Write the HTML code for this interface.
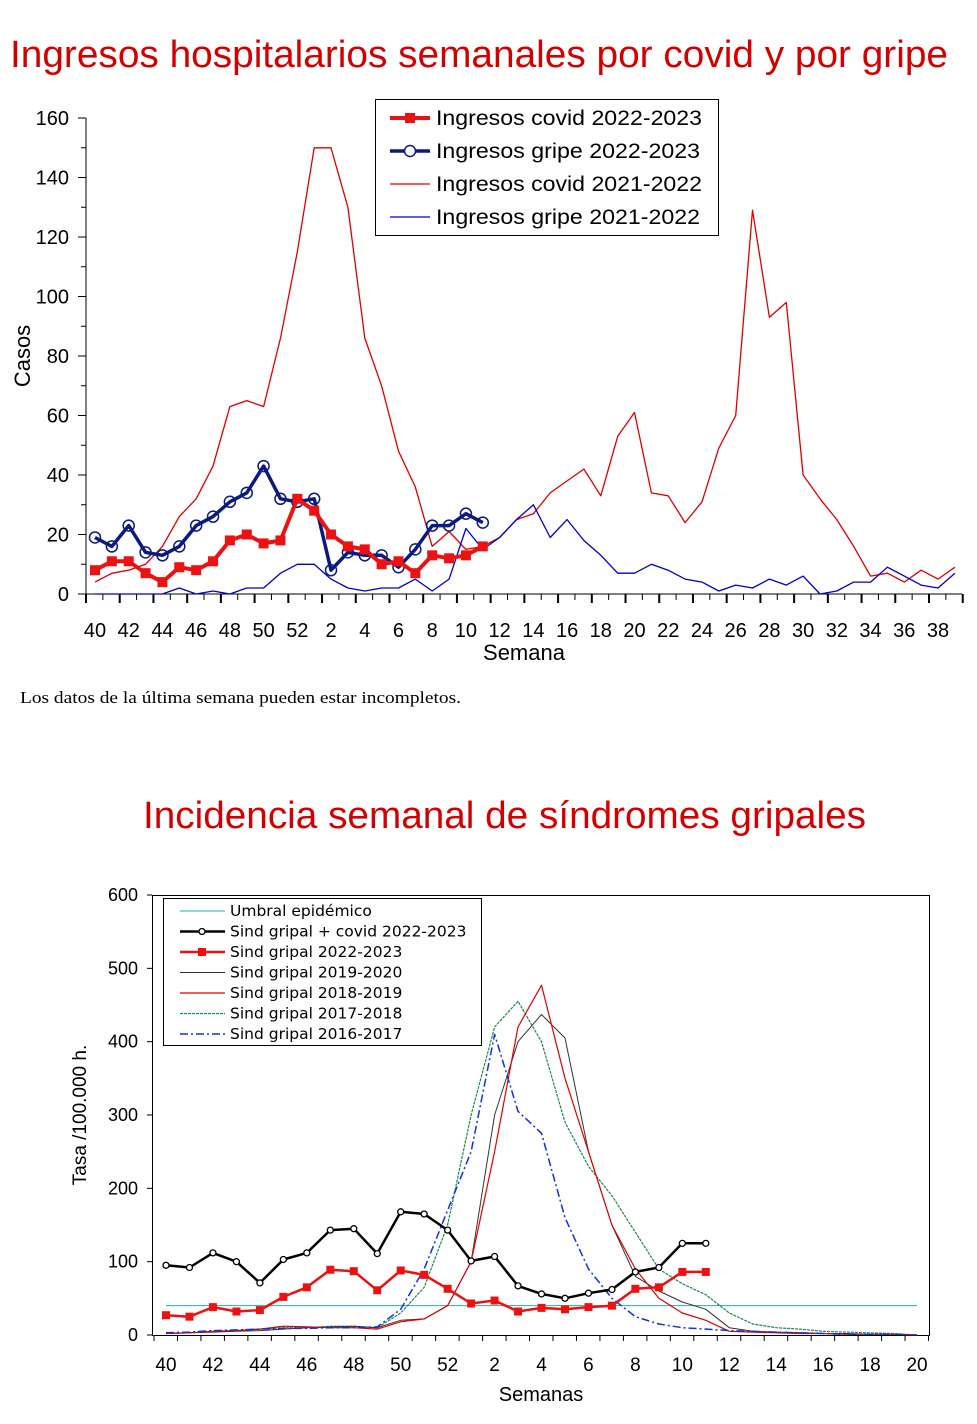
<!DOCTYPE html>
<html><head><meta charset="utf-8"><style>
body{margin:0;background:#fff;width:977px;height:1424px;overflow:hidden}
svg{position:absolute;left:0;top:0}
text{font-family:"Liberation Sans",Arial,sans-serif}
</style></head><body>
<svg id="s" width="977" height="1424" xmlns="http://www.w3.org/2000/svg">
<text x="10" y="67" textLength="938" lengthAdjust="spacingAndGlyphs" font-size="38" fill="#d40000">Ingresos hospitalarios semanales por covid y por gripe</text>
<text x="20" y="703" textLength="441" lengthAdjust="spacingAndGlyphs" font-size="17" style="font-family:'Liberation Serif',serif">Los datos de la última semana pueden estar incompletos.</text>
<text x="143" y="828" textLength="723" lengthAdjust="spacingAndGlyphs" font-size="38" fill="#d40000">Incidencia semanal de síndromes gripales</text>
<g id="g"></g>
</svg>
<script>
var g=document.getElementById('g'),h='';
function X1(i){return 95+i*16.86}function Y1(v){return 594-v*2.975}
function X2(i){return 166+i*23.47}function Y2(v){return 1335-v*0.7333}
function pl(a,X,Y,c,w,extra){return '<polyline fill="none" stroke="'+c+'" stroke-width="'+w+'" stroke-linejoin="round" '+(extra||'')+' points="'+a.map(function(v,i){return X(i).toFixed(1)+','+Y(v).toFixed(1)}).join(' ')+'"/>'}
h+='<line x1="86" y1="118" x2="86" y2="594" stroke="#000"/><line x1="86" y1="594" x2="962" y2="594" stroke="#000"/>';
for(var v=0;v<=160;v+=10){var y=Y1(v);h+='<line x1="'+(v%20?81:78)+'" y1="'+y+'" x2="86" y2="'+y+'" stroke="#000"/>';if(v%20==0)h+='<text x="69" y="'+(y+7)+'" text-anchor="end" font-size="20">'+v+'</text>';}
for(var i=0;i<=52;i++){var x=86+i*16.86;h+='<line x1="'+x+'" y1="594" x2="'+x+'" y2="'+(i%2?600:603)+'" stroke="#000" stroke-width="'+(i%2?1:2)+'"/>';}
for(var k=0;k<26;k++){var wk=40+2*k;if(wk>52)wk-=52;h+='<text x="'+X1(2*k)+'" y="637" text-anchor="middle" font-size="20">'+wk+'</text>';}
h+='<text x="524" y="660" text-anchor="middle" font-size="22">Semana</text>';
h+='<text transform="translate(30,356) rotate(-90)" text-anchor="middle" font-size="22">Casos</text>';
var cv21=[4,7,8,10,16,26,32,43,63,65,63,86,115,150,150,130,86,70,48,36,16,21,15,16,19,25,27,34,38,42,33,53,61,34,33,24,31,49,60,129,93,98,40,32,25,16,6,7,4,8,5,9];
var gr21=[0,0,0,0,0,2,0,1,0,2,2,7,10,10,5,2,1,2,2,5,1,5,22,15,19,25,30,19,25,18,13,7,7,10,8,5,4,1,3,2,5,3,6,0,1,4,4,9,6,3,2,7];
var cv22=[8,11,11,7,4,9,8,11,18,20,17,18,32,28,20,16,15,10,11,7,13,12,13,16];
var gr22=[19,16,23,14,13,16,23,26,31,34,43,32,31,32,8,14,13,13,9,15,23,23,27,24];
h+=pl(cv21,X1,Y1,'#e00000',1.3)+pl(gr21,X1,Y1,'#0000cc',1.3);
h+=pl(gr22,X1,Y1,'#0a1a80',3.5);
gr22.forEach(function(v,i){h+='<circle cx="'+X1(i)+'" cy="'+Y1(v)+'" r="5.5" fill="none" stroke="#0a1a80" stroke-width="1.5"/>'});
h+=pl(cv22,X1,Y1,'#ee1111',4);
cv22.forEach(function(v,i){h+='<rect x="'+(X1(i)-5)+'" y="'+(Y1(v)-5)+'" width="10" height="10" fill="#ee1111"/>'});
h+='<rect x="375.5" y="99.5" width="343" height="136" fill="#fff" stroke="#000"/>';
var L=[['Ingresos covid 2022-2023','#ee1111',4,'sq'],['Ingresos gripe 2022-2023','#0a1a80',3.5,'ci'],['Ingresos covid 2021-2022','#e00000',1.3],['Ingresos gripe 2021-2022','#0000cc',1.3]];
L.forEach(function(l,k){var y=118+k*33;h+='<line x1="390" y1="'+y+'" x2="430" y2="'+y+'" stroke="'+l[1]+'" stroke-width="'+l[2]+'"/>';if(l[3]=='sq')h+='<rect x="405" y="'+(y-5)+'" width="10" height="10" fill="'+l[1]+'"/>';if(l[3]=='ci')h+='<circle cx="410" cy="'+y+'" r="5.5" fill="#fff" stroke="'+l[1]+'" stroke-width="1.5"/>';h+='<text x="436" y="'+(y+7)+'" font-size="21" textLength="'+(k%2?264:266)+'" lengthAdjust="spacingAndGlyphs">'+l[0]+'</text>';});
h+='<rect x="152.5" y="895.5" width="777" height="440" fill="none" stroke="#000"/>';
for(v=0;v<=600;v+=100){y=Y2(v);h+='<line x1="147" y1="'+y+'" x2="152" y2="'+y+'" stroke="#000"/><text x="138" y="'+(y+6)+'" text-anchor="end" font-size="18">'+v+'</text>';}
for(i=0;i<=33;i++){x=154+i*23.47;h+='<line x1="'+x+'" y1="1335" x2="'+x+'" y2="1341" stroke="#000"/>';}
for(k=0;k<17;k++){wk=40+2*k;if(wk>52)wk-=52;h+='<text x="'+X2(2*k)+'" y="1371" text-anchor="middle" font-size="19">'+wk+'</text>';}
h+='<text x="541" y="1401" text-anchor="middle" font-size="20">Semanas</text>';
h+='<text transform="translate(86,1115) rotate(-90)" text-anchor="middle" font-size="19">Tasa /100.000 h.</text>';
var s19=[2,3,4,5,6,8,10,11,12,10,20,22,40,100,300,400,437,405,250,150,80,60,45,35,10,5,4,3,2,2,1,1,0];
var s18=[2,3,5,6,8,12,11,10,10,8,18,22,40,100,250,420,477,350,250,150,90,50,30,20,5,4,3,2,2,1,1,1,0];
var s17=[2,3,5,6,8,10,10,12,12,10,30,65,150,300,420,455,400,290,230,190,140,90,70,55,30,15,10,8,5,4,3,2,0];
var s16=[3,4,6,7,8,9,9,10,10,11,35,90,170,250,410,305,275,160,90,50,25,15,10,8,6,5,4,3,2,1,1,1,0];
var sc=[95,92,112,100,71,103,112,143,145,111,168,165,143,101,107,67,56,50,57,62,86,92,125,125];
var sg=[27,25,38,32,34,52,65,89,87,61,88,82,63,43,47,32,37,35,38,40,63,65,86,86];
h+='<line x1="166" y1="'+Y2(40)+'" x2="917" y2="'+Y2(40)+'" stroke="#20b2aa" stroke-width="1"/>';
h+=pl(s17,X2,Y2,'#1a8a4a',1.2,'stroke-dasharray="3,1"')+pl(s19,X2,Y2,'#333',1)+pl(s18,X2,Y2,'#e00000',1.2)+pl(s16,X2,Y2,'#1030e0',1.5,'stroke-dasharray="8,3,2,3"');
h+=pl(sc,X2,Y2,'#000',2.5);sc.forEach(function(v,i){h+='<circle cx="'+X2(i)+'" cy="'+Y2(v)+'" r="3" fill="#fff" stroke="#000" stroke-width="1.3"/>'});
h+=pl(sg,X2,Y2,'#ee1111',2.5);sg.forEach(function(v,i){h+='<rect x="'+(X2(i)-4)+'" y="'+(Y2(v)-4)+'" width="8" height="8" fill="#ee1111"/>'});
h+='<rect x="163.5" y="898.5" width="318" height="147" fill="#fff" stroke="#000"/>';
var L2=[['Umbral epidémico','#20b2aa',1,''],['Sind gripal + covid 2022-2023','#000',2.5,'ci'],['Sind gripal 2022-2023','#ee1111',2.5,'sq'],['Sind gripal 2019-2020','#333',1,''],['Sind gripal 2018-2019','#e00000',1.2,''],['Sind gripal 2017-2018','#1a8a4a',1.2,'stroke-dasharray="3,1"'],['Sind gripal 2016-2017','#1030e0',1.5,'stroke-dasharray="8,3,2,3"']];
L2.forEach(function(l,k){var y=911+k*20.5;h+='<line x1="180" y1="'+y+'" x2="225" y2="'+y+'" stroke="'+l[1]+'" stroke-width="'+l[2]+'" '+(l[3].indexOf('stroke')==0?l[3]:'')+'/>';if(l[3]=='sq')h+='<rect x="198" y="'+(y-4)+'" width="8" height="8" fill="'+l[1]+'"/>';if(l[3]=='ci')h+='<circle cx="202" cy="'+y+'" r="3" fill="#fff" stroke="#000" stroke-width="1.3"/>';h+='<text x="230" y="'+(y+5)+'" font-size="15.5" style="font-family:\'DejaVu Sans\',sans-serif">'+l[0]+'</text>';});
g.innerHTML=h;
</script>
</body></html>
